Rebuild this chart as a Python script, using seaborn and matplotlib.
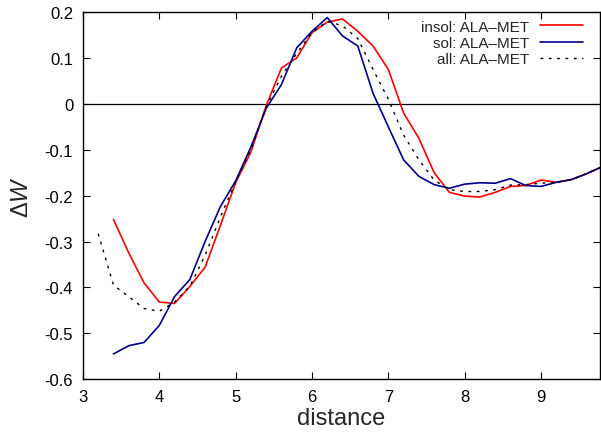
import numpy as np
import pandas as pd
import matplotlib
matplotlib.use("Agg")
import matplotlib.pyplot as plt
import seaborn as sns

# distances (step 0.2)
x_insol = [3.4, 3.6, 3.8, 4.0, 4.2, 4.4, 4.6, 4.8, 5.0, 5.2, 5.4, 5.6, 5.8, 6.0, 6.2, 6.4,
           6.6, 6.8, 7.0, 7.2, 7.4, 7.6, 7.8, 8.0, 8.2, 8.4, 8.6, 8.8, 9.0, 9.2, 9.4, 9.6, 9.8]
insol = [-0.252, -0.325, -0.390, -0.432, -0.435, -0.398, -0.356, -0.265, -0.172, -0.105, -0.004,
         0.078, 0.100, 0.155, 0.178, 0.185, 0.158, 0.126, 0.075, -0.020, -0.075, -0.150, -0.193,
         -0.201, -0.203, -0.193, -0.180, -0.178, -0.166, -0.171, -0.165, -0.152, -0.137]

x_sol = x_insol
sol = [-0.545, -0.527, -0.520, -0.483, -0.420, -0.383, -0.300, -0.224, -0.168, -0.094, -0.010,
       0.042, 0.122, 0.158, 0.188, 0.148, 0.126, 0.023, -0.050, -0.122, -0.158, -0.176, -0.184,
       -0.175, -0.172, -0.173, -0.163, -0.178, -0.180, -0.171, -0.165, -0.152, -0.137]

x_all = [3.2] + x_insol
all_ = [-0.283, -0.395, -0.420, -0.446, -0.452, -0.432, -0.398, -0.330, -0.247, -0.170, -0.100,
        -0.007, 0.060, 0.110, 0.155, 0.180, 0.170, 0.142, 0.075, 0.010, -0.068, -0.122, -0.166,
        -0.187, -0.191, -0.191, -0.187, -0.177, -0.176, -0.173, -0.171, -0.165, -0.152, -0.137]

labels = ["insol: ALA\u2013MET", "sol: ALA\u2013MET", "all: ALA\u2013MET"]
xticks = [3, 4, 5, 6, 7, 8, 9]
yticks = [-0.6, -0.5, -0.4, -0.3, -0.2, -0.1, 0.0, 0.1, 0.2]
ytick_labels = ["-0.6", "-0.5", "-0.4", "-0.3", "-0.2", "-0.1", "0", "0.1", "0.2"]

sns.set_style("ticks")
plt.rcParams["font.family"] = ["Liberation Sans", "DejaVu Sans"]
plt.rcParams["mathtext.fontset"] = "custom"
plt.rcParams["mathtext.rm"] = "Liberation Sans"
plt.rcParams["mathtext.it"] = "Liberation Sans:italic"
plt.rcParams["axes.unicode_minus"] = False

fig = plt.figure(figsize=(6.01, 4.35), dpi=100)
ax = fig.add_axes([0.138, 0.126, 0.860, 0.844])

ax.axhline(0, color="black", lw=0.9, zorder=1)

sns.lineplot(x=x_insol, y=insol, ax=ax, color="#ff0000", lw=1.2, label=labels[0])
sns.lineplot(x=x_sol, y=sol, ax=ax, color="#00008b", lw=1.2, label=labels[1])
sns.lineplot(x=x_all, y=all_, ax=ax, color="black", lw=1.0, label=labels[2])
ax.lines[-1].set_dashes([2, 4])

ax.set_xlim(3, 9.77)
ax.set_ylim(-0.6, 0.2)
ax.set_xticks(xticks)
ax.set_yticks(yticks)
ax.set_yticklabels(ytick_labels)
ax.tick_params(direction="in", top=True, right=True, length=5, width=0.8,
               labelsize=12, colors="black", pad=7)
for s in ax.spines.values():
    s.set_linewidth(1.0)
    s.set_color("black")

ax.set_xlabel("distance", fontsize=17, labelpad=2)
ax.set_ylabel(r"$\Delta W$", fontsize=17, labelpad=8)

leg = ax.legend(loc="upper right", bbox_to_anchor=(0.979, 0.996), frameon=False,
                markerfirst=False, fontsize=11, handlelength=2.8, labelspacing=0.15,
                borderaxespad=0, handletextpad=0.7)
leg.get_lines()[2].set_dashes([2, 4])

fig.savefig("out.png", dpi=100)
